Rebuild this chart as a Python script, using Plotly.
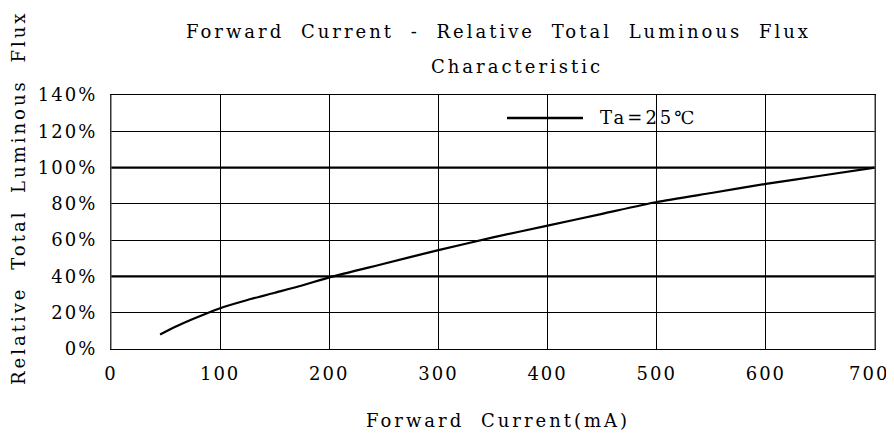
import plotly.graph_objects as go

# Data
current_mA = [45, 60, 75, 100, 125, 150, 175, 200, 250, 300, 350, 400, 450, 500, 550, 600, 650, 700]
rel_flux_pct = [8, 12.5, 16.5, 22.5, 27, 31, 35, 39.5, 47, 54.5, 61.5, 68, 74.5, 81, 86, 91, 95.5, 100]

x_ticks = [0, 100, 200, 300, 400, 500, 600, 700]
x_tick_labels = [str(v) for v in x_ticks]
y_ticks = [0, 20, 40, 60, 80, 100, 120, 140]
y_tick_labels = [f"{v}%" for v in y_ticks]
bold_grid_y = [40, 100]
series_name = "Ta=25℃"

FONT = "DejaVu Serif"
FS = 18

# page body has an 8px margin: the figure is shifted by 8px right/down
OFF = 8
W, H = 894 - OFF, 435 - OFF
L, R, T, B = 111 - OFF, 19, 95 - OFF, 86
PW, PH = W - L - R, H - T - B  # 764 x 254


def sp(t, ls=3, ws=8):
    return f'<span style="letter-spacing:{ls}px;word-spacing:{ws}px">{t}</span>'


def px(xp):  # page x pixel -> paper x
    return (xp - 111) / PW


def py(yp):  # page y pixel -> paper y
    return (349 - yp) / PH


# last x label sits slightly left of its gridline in the reference (keeps it inside the page)
x_tick_text = [sp(t, 2) for t in x_tick_labels]
x_tick_text[-1] = sp(x_tick_labels[-1], 2) + "&nbsp;&nbsp;"

fig = go.Figure()
fig.add_trace(go.Scatter(
    x=current_mA, y=rel_flux_pct, mode="lines", name=series_name, showlegend=False,
    line=dict(color="black", width=2.2, shape="spline", smoothing=0.6),
))

for yv in bold_grid_y:
    fig.add_shape(type="line", xref="paper", yref="y", x0=0, x1=1, y0=yv, y1=yv,
                  line=dict(color="black", width=2.2), layer="above")

# left/right borders (greyish in the reference)
for xv in [0, 1]:
    fig.add_shape(type="line", xref="paper", yref="paper", x0=xv, x1=xv, y0=0, y1=1,
                  line=dict(color="#555555", width=1.2), layer="above")

# legend sample line
fig.add_shape(type="line", xref="paper", yref="paper", x0=px(507), x1=px(583),
              y0=py(118), y1=py(118), line=dict(color="black", width=2.4))

fig.update_layout(
    width=W, height=H,
    margin=dict(l=L, r=R, t=T, b=B, pad=0),
    paper_bgcolor="white", plot_bgcolor="white",
    font=dict(family=FONT, size=FS, color="black"),
    showlegend=False,
    xaxis=dict(range=[0, 700], tickvals=x_ticks, ticktext=x_tick_text,
               showgrid=True, gridcolor="black", gridwidth=1, zeroline=False,
               showline=True, linecolor="black", linewidth=1.2, mirror=True, automargin=False,
               ticks="", ticklabelstandoff=8, ticklabeloverflow="allow",
               tickfont=dict(family=FONT, size=FS)),
    yaxis=dict(range=[0, 140], tickvals=y_ticks, ticktext=[sp(t, 2) for t in y_tick_labels],
               showgrid=True, gridcolor="black", gridwidth=1, zeroline=False,
               showline=True, linecolor="black", linewidth=1.2, mirror=True, automargin=False,
               ticks="", ticklabelstandoff=9, ticklabeloverflow="allow",
               tickfont=dict(family=FONT, size=FS)),
    annotations=[
        dict(text=sp("Forward Current - Relative Total Luminous Flux"), xref="paper", yref="paper",
             x=px(498), y=py(31), showarrow=False,
             font=dict(family=FONT, size=FS), xanchor="center", yanchor="middle"),
        dict(text=sp("Characteristic"), xref="paper", yref="paper",
             x=px(517), y=py(67), showarrow=False,
             font=dict(family=FONT, size=FS), xanchor="center", yanchor="middle"),
        dict(text=sp("Forward Current(mA)"), xref="paper", yref="paper",
             x=px(498), y=py(420), showarrow=False,
             font=dict(family=FONT, size=FS), xanchor="center", yanchor="middle"),
        dict(text=sp("Relative Total Luminous Flux"), xref="paper", yref="paper",
             x=px(18), y=py(198), showarrow=False, textangle=-90,
             font=dict(family=FONT, size=FS), xanchor="center", yanchor="middle"),
        dict(text=sp(series_name, 3), xref="paper", yref="paper",
             x=px(598), y=py(118), showarrow=False,
             font=dict(family=FONT, size=FS), xanchor="left", yanchor="middle"),
    ],
)

fig.write_html("out.html")
